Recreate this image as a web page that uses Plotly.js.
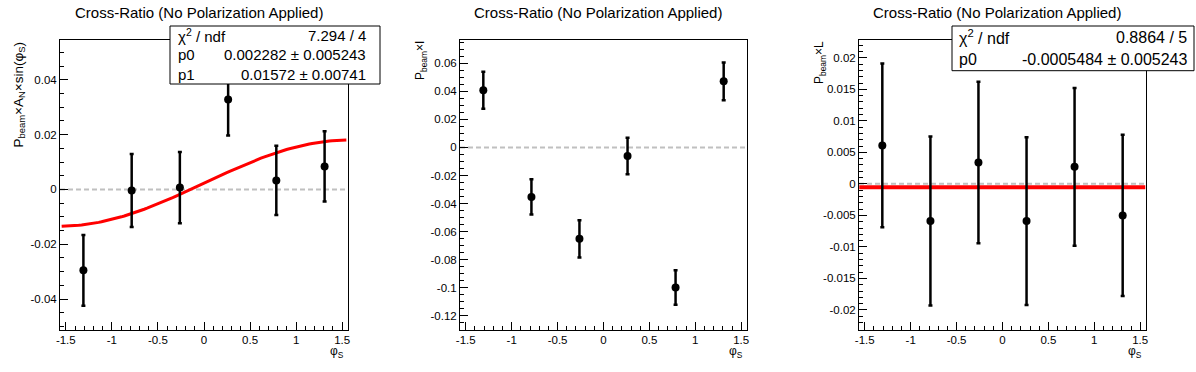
<!DOCTYPE html>
<html>
<head>
<meta charset="utf-8">
<script src="https://cdn.plot.ly/plotly-3.0.1.min.js"></script>
<style>html,body{margin:0;padding:0;background:#fff;}#chart{width:1196px;height:372px;}</style>
</head>
<body>
<div id="chart"></div>
<script>
// ---- data ----
const phiS = [-1.309, -0.785, -0.262, 0.262, 0.785, 1.309];
const anVals = [-0.0295, -0.0004, 0.0007, 0.0328, 0.0033, 0.0084];
const anErrs = [0.0129, 0.0133, 0.0130, 0.0131, 0.0126, 0.0128];
const iVals = [0.0408, -0.0353, -0.0652, -0.0061, -0.1000, 0.0472];
const iErrs = [0.0132, 0.0126, 0.0133, 0.0131, 0.0123, 0.0135];
const lVals = [0.0061, -0.0059, 0.0034, -0.0059, 0.0027, -0.0050];
const lErrs = [0.0130, 0.0134, 0.0128, 0.0133, 0.0125, 0.0128];

// fit parameters (from stat boxes)
const fitAN_p0 = 0.002282, fitAN_p1 = 0.01572;
const fitL_p0 = -0.0005484;
const fitANRange = [-1.545, 1.545];
const fitLRange = [-1.56, 1.555];

// tick labels
const xTickVals = [-1.5, -1, -0.5, 0, 0.5, 1, 1.5];
const xTickText = ["-1.5", "-1", "-0.5", "0", "0.5", "1", "1.5"];
const y1TickVals = [-0.04, -0.02, 0, 0.02, 0.04];
const y1TickText = ["-0.04", "-0.02", "0", "0.02", "0.04"];
const y2TickVals = [-0.12, -0.1, -0.08, -0.06, -0.04, -0.02, 0, 0.02, 0.04, 0.06];
const y2TickText = ["-0.12", "-0.1", "-0.08", "-0.06", "-0.04", "-0.02", "0", "0.02", "0.04", "0.06"];
const y3TickVals = [-0.02, -0.015, -0.01, -0.005, 0, 0.005, 0.01, 0.015, 0.02];
const y3TickText = ["-0.02", "-0.015", "-0.01", "-0.005", "0", "0.005", "0.01", "0.015", "0.02"];

const titleText = "Cross-Ratio (No Polarization Applied)";
const yTitles = ["P<sub>beam</sub>×A<sub>N</sub>×sin(φ<sub>S</sub>)", "P<sub>beam</sub>×I", "P<sub>beam</sub>×L"];
const xTitle = "φ<sub>S</sub>";
const stat1 = [["χ<sup>2</sup> / ndf", "7.294 / 4"], ["p0", "0.002282 ± 0.005243"], ["p1", "0.01572 ± 0.00741"]];
const stat3 = [["χ<sup>2</sup> / ndf", "0.8864 / 5"], ["p0", "-0.0005484 ± 0.005243"]];

// ---- layout helpers ----
const W = 1196, H = 372;
const px = v => v / W;
const py = v => 1 - v / H;
const FONT = "Liberation Sans, Arial, Helvetica, sans-serif";

// fit curve for panel 1 (p0 + p1*sin(phi))
const nFit = 100;
const fitX = [], fitY = [];
for (let k = 0; k <= nFit; k++) {
  const x = fitANRange[0] + (fitANRange[1] - fitANRange[0]) * k / nFit;
  fitX.push(x); fitY.push(fitAN_p0 + fitAN_p1 * Math.sin(x));
}

function pts(xa, ya, vals, errs) {
  return {
    x: phiS, y: vals, xaxis: xa, yaxis: ya, type: 'scatter', mode: 'markers',
    marker: {color: 'black', size: 8},
    error_y: {type: 'data', array: errs, visible: true, color: 'black', thickness: 2.5, width: 2},
    hoverinfo: 'skip'
  };
}

const traces = [
  {x: fitX, y: fitY, xaxis: 'x', yaxis: 'y', type: 'scatter', mode: 'lines', line: {color: '#ff0000', width: 3}, hoverinfo: 'skip'},
  pts('x', 'y', anVals, anErrs),
  pts('x2', 'y2', iVals, iErrs),
  {x: fitLRange, y: [fitL_p0, fitL_p0], xaxis: 'x3', yaxis: 'y3', type: 'scatter', mode: 'lines', line: {color: '#ff0000', width: 4}, hoverinfo: 'skip'},
  pts('x3', 'y3', lVals, lErrs)
];

const frames = [[60, 348], [460, 747], [859, 1146]];
const frameTop = 39.5, frameBot = 329.5;
const xRange = [-1.563, 1.563];

function xAxis(i) {
  return {
    domain: [px(frames[i][0]), px(frames[i][1])], range: xRange, anchor: i === 0 ? 'y' : 'y' + (i + 1),
    tickmode: 'array', tickvals: xTickVals, ticktext: xTickText,
    ticks: 'inside', ticklen: 8, tickwidth: 1, tickcolor: 'black',
    minor: {tickmode: 'linear', tick0: 0, dtick: 0.1, ticks: 'inside', ticklen: 4, tickwidth: 1, tickcolor: 'black', showgrid: false},
    showline: true, mirror: true, linecolor: 'black', linewidth: 1,
    showgrid: false, zeroline: false, fixedrange: true,
    tickfont: {family: FONT, size: 11.5, color: 'black'}
  };
}
function yAxis(i, range, tv, tt, minorD) {
  return {
    domain: [py(frameBot), py(frameTop)], range: range, anchor: i === 0 ? 'x' : 'x' + (i + 1),
    tickmode: 'array', tickvals: tv, ticktext: tt,
    ticks: 'inside', ticklen: 8, tickwidth: 1, tickcolor: 'black',
    minor: {tickmode: 'linear', tick0: 0, dtick: minorD, ticks: 'inside', ticklen: 4, tickwidth: 1, tickcolor: 'black', showgrid: false},
    showline: true, mirror: true, linecolor: 'black', linewidth: 1,
    showgrid: false, zeroline: false, fixedrange: true,
    tickfont: {family: FONT, size: 11.5, color: 'black'}
  };
}

const shapes = [];
const annotations = [];
['x', 'x2', 'x3'].forEach((xa, i) => {
  const ya = i === 0 ? 'y' : 'y' + (i + 1);
  shapes.push({type: 'line', xref: xa + ' domain', yref: ya, x0: 0, x1: 1, y0: 0, y1: 0,
    line: {color: '#c0c0c0', width: 2, dash: '5px,3px'}, layer: 'below'});
  const padC = (i + 0.5) * W / 3;
  annotations.push({text: titleText, xref: 'paper', yref: 'paper', x: px(padC), y: py(13), xanchor: 'center', yanchor: 'middle',
    showarrow: false, font: {family: FONT, size: 15, color: 'black'}});
  annotations.push({text: xTitle, xref: 'paper', yref: 'paper', x: px(frames[i][1] - 2), y: py(342), xanchor: 'right', yanchor: 'top',
    showarrow: false, font: {family: FONT, size: 12, color: 'black'}});
});
const yTitleX = [19, 421, 820];
const yTitleSize = [13.5, 12, 12];
yTitles.forEach((t, i) => {
  annotations.push({text: t, xref: 'paper', yref: 'paper', x: px(yTitleX[i]), y: py(frameTop), xanchor: 'center', yanchor: 'top',
    textangle: -90, showarrow: false, font: {family: FONT, size: yTitleSize[i], color: 'black'}});
});

function statBox(box, rows, fs, leftX, rightX) {
  shapes.push({type: 'rect', xref: 'paper', yref: 'paper', x0: px(box[0]), x1: px(box[1]), y0: py(box[3]), y1: py(box[2]),
    line: {color: 'black', width: 1}, fillcolor: 'white', layer: 'above'});
  const rh = (box[3] - box[2]) / rows.length;
  rows.forEach((r, k) => {
    const yc = box[2] + rh * (k + 0.5);
    annotations.push({text: r[0], xref: 'paper', yref: 'paper', x: px(leftX), y: py(yc), xanchor: 'left', yanchor: 'middle',
      showarrow: false, font: {family: FONT, size: fs, color: 'black'}});
    annotations.push({text: r[1], xref: 'paper', yref: 'paper', x: px(rightX), y: py(yc), xanchor: 'right', yanchor: 'middle',
      showarrow: false, font: {family: FONT, size: fs, color: 'black'}});
  });
}
statBox([170, 380, 26, 84], stat1, 15, 176, 368);
statBox([952, 1194, 26, 70.7], stat3, 16, 957, 1189);

const layout = {
  width: W, height: H, margin: {l: 0, r: 0, t: 0, b: 0},
  paper_bgcolor: 'white', plot_bgcolor: 'white', showlegend: false,
  font: {family: FONT, color: 'black'},
  xaxis: xAxis(0), xaxis2: xAxis(1), xaxis3: xAxis(2),
  yaxis: yAxis(0, [-0.0511, 0.0547], y1TickVals, y1TickText, 0.005),
  yaxis2: yAxis(1, [-0.130, 0.0771], y2TickVals, y2TickText, 0.005),
  yaxis3: yAxis(2, [-0.0231, 0.0229], y3TickVals, y3TickText, 0.001),
  shapes: shapes, annotations: annotations
};

Plotly.newPlot('chart', traces, layout, {staticPlot: true, displayModeBar: false});
</script>
</body>
</html>
